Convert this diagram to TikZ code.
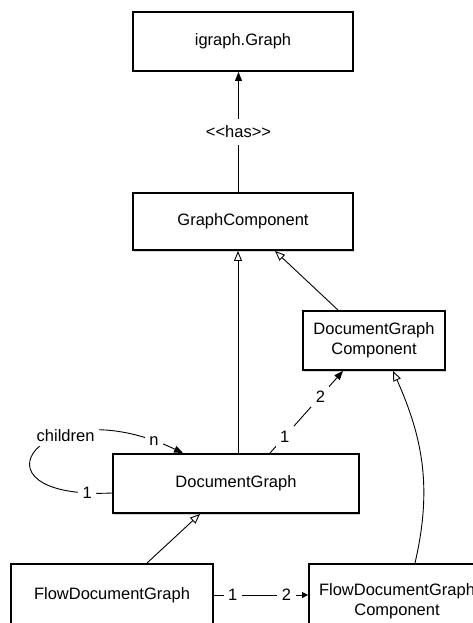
\documentclass[tikz,border=0pt]{standalone}
\usepackage{fontspec}
\setmainfont{Liberation Sans}
\usetikzlibrary{arrows.meta,shadows}

\begin{document}
\begin{tikzpicture}[x=1pt,y=-1pt,
    box/.style={draw, line width=1.9pt, fill=white, align=center, inner sep=0pt,
        drop shadow={shadow xshift=1pt, shadow yshift=-1.5pt, opacity=0.35},
        font=\fontsize{16.5}{20}\selectfont},
    lbl/.style={fill=white, inner sep=4.5pt, font=\fontsize{16.5}{20}\selectfont},
    inherit/.style={line width=0.9pt, -{Triangle[open,length=10pt,width=8pt]}},
    assoc/.style={line width=0.9pt, -{Triangle[length=9pt,width=7pt]}},
    assocsmall/.style={line width=0.9pt, -{Triangle[length=6pt,width=6pt]}}]
    \useasboundingbox (0,0) rectangle (473,623);
    \clip (0,0) rectangle (473,623);

    \node[box, minimum width=220, minimum height=59] (graph) at (243,41.5) {igraph.Graph};
    \node[box, minimum width=220, minimum height=57] (gcomp) at (243,221.5) {GraphComponent};
    \node[box, minimum width=142, minimum height=59] (dgcomp) at (374,340.5) {DocumentGraph\\Component};
    \node[box, minimum width=246, minimum height=59] (dgraph) at (236,483.5) {DocumentGraph};
    \node[box, minimum width=202, minimum height=62] (fdgraph) at (112,595) {FlowDocumentGraph};
    \node[box, minimum width=176, minimum height=74] (fdgcomp) at (397,601) {FlowDocumentGraph\\Component};

    \draw[assoc] ([xshift=-4.5pt]gcomp.north) -- ([xshift=-4.5pt]graph.south)
        node[lbl, midway, inner ysep=7pt] {{<}{<}has{>}{>}};
    \draw[inherit] ([xshift=2pt]dgraph.north) -- ([xshift=2pt]dgraph.north |- gcomp.south);
    \draw[inherit] ([xshift=-36pt]dgcomp.north) -- ([xshift=32pt]gcomp.south);
    \draw[inherit] ([xshift=35pt]fdgraph.north) -- ([xshift=-36pt]dgraph.south);
    \draw[inherit] ([xshift=18pt]fdgcomp.north) to[out=77, in=-66] ([xshift=19pt]dgcomp.south);
    \draw[assoc] ([xshift=34pt]dgraph.north) -- ([xshift=-31pt]dgcomp.south)
        node[lbl, pos=0.2] {1} node[lbl, pos=0.69] {2};
    \draw[assocsmall] (fdgraph.east) -- (fdgraph.east -| fdgcomp.west)
        node[lbl, pos=0.2] {1} node[lbl, pos=0.77] {2};
    \draw[assoc] ([yshift=-9.5pt]dgraph.west) .. controls (-40,500) and (40,385) .. ([xshift=-53pt]dgraph.north)
        node[lbl, pos=0.06] {1} node[lbl, pos=0.66] {children} node[lbl, pos=0.93] {n};
\end{tikzpicture}
\end{document}
